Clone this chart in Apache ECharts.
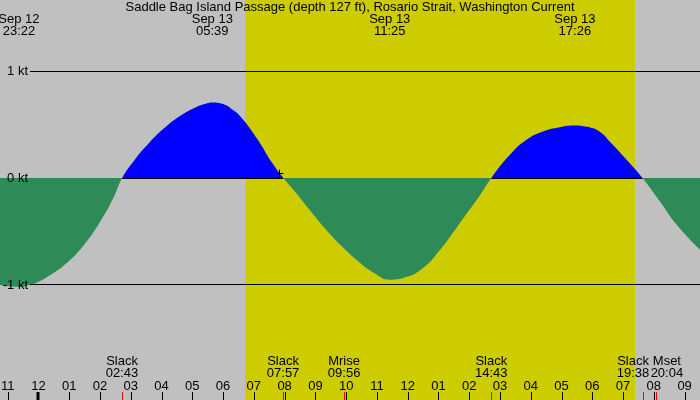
<!DOCTYPE html>
<html><head><meta charset="utf-8">
<script src="https://cdn.jsdelivr.net/npm/echarts@6/dist/echarts.min.js"></script>
<style>html,body{margin:0;padding:0;background:#c0c0c0}#c{width:700px;height:400px}</style>
</head><body><div id="c"></div>
<script>
// ---------- data ----------
const chartTitle = 'Saddle Bag Island Passage (depth 127 ft), Rosario Strait, Washington Current';
// hours relative to Sep 13 00:00 (negative = Sep 12)
const curveHours = [-1.25,-0.9,-0.63,-0.3,0.0,0.4,0.9,1.45,2.0,2.43,2.72,3.1,3.6,4.1,4.6,5.1,5.4,5.65,5.9,6.1,6.3,6.55,7.1,7.6,7.96,8.4,8.9,9.4,9.9,10.4,10.9,11.42,11.9,12.5,13.0,13.6,14.0,14.35,14.72,15.3,15.85,16.4,16.95,17.43,17.7,18.0,18.3,18.55,19.1,19.63,20.2,20.75,21.5];
const curveKnots = [-1.00,-1.015,-1.02,-1.00,-0.97,-0.905,-0.80,-0.635,-0.41,-0.19,0,0.16,0.33,0.47,0.58,0.66,0.692,0.707,0.70,0.68,0.64,0.58,0.37,0.14,0,-0.15,-0.33,-0.50,-0.65,-0.78,-0.885,-0.95,-0.93,-0.84,-0.69,-0.46,-0.30,-0.16,0,0.21,0.355,0.435,0.475,0.49,0.485,0.467,0.42,0.345,0.175,0,-0.22,-0.44,-0.67];
const extremeDates = ['Sep 12','Sep 13','Sep 13','Sep 13'];
const extremeTimes = ['23:22','05:39','11:25','17:26'];
const eventNames = ['Slack','Slack','Mrise','Slack','Slack','Mset'];
const eventTimes = ['02:43','07:57','09:56','14:43','19:38','20:04'];
const hourValues = [-1,0,1,2,3,4,5,6,7,8,9,10,11,12,13,14,15,16,17,18,19,20,21];
const hourLabels = ['11','12','01','02','03','04','05','06','07','08','09','10','11','12','01','02','03','04','05','06','07','08','09'];
const levelValues = [1,0,-1];
const levelLabels = ['1 kt','0 kt','-1 kt'];
const floodStarts = ['02:43','14:43'];
const floodEnds = ['07:57','19:38'];
const sunriseTime = '06:43';
const sunsetTime = '19:23';
const nowTime = '07:50';
const nowKnots = 0.045;

// ---------- layout / style ----------
const eventLabelShift = [0,0,0,0,-9.5,11];
const FONT_FAMILY = '"Liberation Sans", Arial, sans-serif';
const FONT = '13px ' + FONT_FAMILY;
const H = s => { const p = s.split(':').map(Number); return p[0] + p[1]/60; };
const dayOffset = d => d === 'Sep 12' ? -24 : 0;
const crisp = v => Math.round(v) + 0.5;
const txt = (text, x, y, align) => ({type:'text', style:{text, x, y, align: align || 'center', verticalAlign:'middle', font: FONT, fill:'#000'}});

const chart = echarts.init(document.getElementById('c'), null, {renderer:'canvas'});
chart.setOption({
  animation:false,
  backgroundColor:'#c0c0c0',
  grid:{left:0,right:0,top:0,bottom:0},
  xAxis:{type:'value', min:-1.25, max:21.5, show:false},
  yAxis:{type:'value', min:-2.075, max:1.664, show:false},
  visualMap:{show:false, type:'piecewise', seriesIndex:1, dimension:1,
    pieces:[{gt:0, lte:10, color:'#0000ff'},{gt:-10, lte:0, color:'#2e8b57'}]},
  graphic:[{type:'text', left:'center', top:1, z:10, style:{text:chartTitle, font:FONT, fill:'#000'}}],
  series:[
    { // daylight
      type:'custom', z:0, silent:true, data:[[H(sunriseTime), H(sunsetTime)]],
      renderItem:(p,api)=>{
        const a = api.coord([api.value(0),0]), b = api.coord([api.value(1),0]);
        return {type:'rect', shape:{x:Math.round(a[0]), y:0, width:Math.round(b[0])-Math.round(a[0]), height:api.getHeight()}, style:{fill:'#cccc00'}};
      }
    },
    { // current
      type:'line', z:2, silent:true, data:curveHours.map((h,i)=>[h, curveKnots[i]]),
      smooth:0.5, showSymbol:false, symbol:'none',
      lineStyle:{width:0}, areaStyle:{opacity:1}
    },
    { // zero line under flood
      type:'custom', z:3, silent:true, data:floodStarts.map((s,i)=>[H(s), H(floodEnds[i])]),
      renderItem:(p,api)=>{
        const a = api.coord([api.value(0),0]), b = api.coord([api.value(1),0]);
        return {type:'line', shape:{x1:a[0], y1:crisp(a[1]-0.5), x2:b[0], y2:crisp(a[1]-0.5)}, style:{stroke:'#000', lineWidth:1}};
      }
    },
    { // level lines and labels
      type:'custom', z:4, silent:true, data:levelValues.map((v,i)=>[-1.25, v, i]),
      renderItem:(p,api)=>{
        const v = api.value(1), pt = api.coord([-1.25, v]);
        const y = crisp(pt[1]-0.5);
        const children = [txt(levelLabels[api.value(2)], 28, pt[1], 'right')];
        if (v !== 0) children.push({type:'line', shape:{x1:30, y1:y, x2:api.getWidth(), y2:y}, style:{stroke:'#000', lineWidth:1}});
        return {type:'group', children};
      }
    },
    { // hour ticks
      type:'custom', z:4, silent:true, data:hourValues.map((h,i)=>[h, i]),
      renderItem:(p,api)=>{
        const h = api.value(0), pt = api.coord([h, 0]);
        const thick = ((h % 24) + 24) % 24 === 0;
        const x = thick ? Math.round(pt[0]) : crisp(pt[0]);
        return {type:'group', children:[
          {type:'line', shape:{x1:x, y1:392, x2:x, y2:400}, style:{stroke:'#000', lineWidth: thick ? 3 : 1}},
          txt(hourLabels[api.value(1)], pt[0], 386)
        ]};
      }
    },
    { // events (slack, moon)
      type:'custom', z:5, silent:true, data:eventTimes.map((t,i)=>[H(t), i]),
      renderItem:(p,api)=>{
        const i = api.value(1), pt = api.coord([api.value(0), 0]);
        const x = crisp(pt[0]), lx = pt[0] + eventLabelShift[i];
        return {type:'group', children:[
          {type:'line', shape:{x1:x, y1:392, x2:x, y2:400}, style:{stroke:'#ff0000', lineWidth:1}},
          txt(eventNames[i], lx, 361.5),
          txt(eventTimes[i], lx, 373.5)
        ]};
      }
    },
    { // extremes labels at top
      type:'custom', z:5, silent:true, data:extremeTimes.map((t,i)=>[dayOffset(extremeDates[i]) + H(t), i]),
      renderItem:(p,api)=>{
        const i = api.value(1), pt = api.coord([api.value(0), 0]);
        return {type:'group', children:[
          txt(extremeDates[i], pt[0], 19.5),
          txt(extremeTimes[i], pt[0], 31.5)
        ]};
      }
    },
    { // current time marker
      type:'custom', z:6, silent:true, data:[[H(nowTime), nowKnots]],
      renderItem:(p,api)=>{
        const pt = api.coord([api.value(0), api.value(1)]);
        const x = crisp(pt[0]), y = crisp(pt[1]);
        return {type:'group', children:[
          {type:'line', shape:{x1:x-4, y1:y, x2:x+4, y2:y}, style:{stroke:'#000', lineWidth:1}},
          {type:'line', shape:{x1:x, y1:y-4, x2:x, y2:y+4}, style:{stroke:'#000', lineWidth:1}}
        ]};
      }
    }
  ]
});
</script></body></html>
